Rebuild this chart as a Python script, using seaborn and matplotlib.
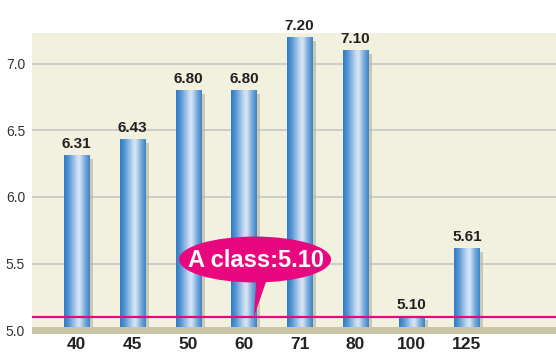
import numpy as np
import matplotlib
matplotlib.use("Agg")
import matplotlib.pyplot as plt
from matplotlib.colors import LinearSegmentedColormap
from matplotlib.patches import Ellipse, Polygon
import seaborn as sns

# Thickness classes and measured values
sizes = ["40", "45", "50", "60", "71", "80", "100", "125"]
values = [6.31, 6.43, 6.80, 6.80, 7.20, 7.10, 5.10, 5.61]
value_labels = ["6.31", "6.43", "6.80", "6.80", "7.20", "7.10", "5.10", "5.61"]
a_class = 5.10
a_class_label = "A class:5.10"
y_ticks = [5.0, 5.5, 6.0, 6.5, 7.0]

sns.set_theme(style="white")
plt.rcParams["font.family"] = ["Liberation Sans", "DejaVu Sans"]

BG = "#f2f0df"
FLOOR = "#c9c5a6"
MAGENTA = "#e8077f"

fig = plt.figure(figsize=(5.56, 3.54), dpi=100)
ax = fig.add_axes([0.0576, 0.0565, 0.9424, 0.8503])
ax.set_facecolor(BG)

y_lo, y_hi = 4.97, 7.233
n = len(sizes)

# drop shadows behind the bars
ax.bar(np.arange(n) + 0.07, [v - 0.025 for v in values], width=0.45,
       bottom=0, color="#bcb8a2", alpha=0.7, zorder=1, linewidth=0)

sns.barplot(x=sizes, y=values, ax=ax, width=0.45, color="#4a8fd0",
            saturation=1, zorder=2, linewidth=0)

# cylinder shading on each bar
cyl = LinearSegmentedColormap.from_list(
    "cyl", [(0.0, "#2f7bc3"), (0.18, "#5596d4"), (0.5, "#c6dbf1"),
            (0.6, "#d8e6f5"), (0.82, "#78aadb"), (1.0, "#3b84c8")])
grad = np.linspace(0, 1, 64).reshape(1, -1)
for patch in list(ax.patches):
    if patch.get_zorder() != 2:
        continue
    x0 = patch.get_x()
    w = patch.get_width()
    h = patch.get_height()
    ax.imshow(grad, cmap=cyl, aspect="auto",
              extent=(x0, x0 + w, y_lo, h), zorder=2.1,
              interpolation="bicubic")

# floor strip
ax.axhspan(y_lo, 5.023, color=FLOOR, zorder=3, linewidth=0)

# value labels above bars
for i, (v, lab) in enumerate(zip(values, value_labels)):
    ax.text(i, v + 0.035, lab, ha="center", va="bottom", fontsize=11,
            fontweight="bold", color="#222222", zorder=5)

# A class reference line
ax.axhline(a_class, color=MAGENTA, lw=1.6, zorder=4)

# callout bubble
cx, cy = 3.2, 5.53
ax.add_patch(Ellipse((cx, cy), 2.73, 0.345, facecolor=MAGENTA,
                     edgecolor="none", zorder=6))
ax.add_patch(Polygon([(3.23, 5.40), (3.43, 5.40), (3.18, a_class)],
                     closed=True, facecolor=MAGENTA, edgecolor="none", zorder=6))
ax.text(cx + 0.02, cy - 0.005, a_class_label, ha="center", va="center",
        fontsize=17, fontweight="bold", color="white", zorder=7,
        family=["Liberation Sans Narrow", "Liberation Sans", "DejaVu Sans"])

ax.set_xlim(-0.8, 8.6)
ax.set_ylim(y_lo, y_hi)
ax.set_yticks(y_ticks)
ax.set_yticklabels([f"{t:.1f}" for t in y_ticks], fontsize=10, color="#333333")
ax.yaxis.grid(True, color="#c9c9c6", lw=1.3, zorder=0)
ax.set_axisbelow(True)
ax.tick_params(axis="y", length=0, pad=5)
ax.tick_params(axis="x", length=0, pad=2)
for lbl in ax.get_xticklabels():
    lbl.set_fontsize(12.5)
    lbl.set_fontweight("bold")
    lbl.set_color("#222222")
ax.set_xlabel("")
ax.set_ylabel("")
for s in ax.spines.values():
    s.set_visible(False)

fig.savefig("out.png", dpi=100, facecolor="white")
